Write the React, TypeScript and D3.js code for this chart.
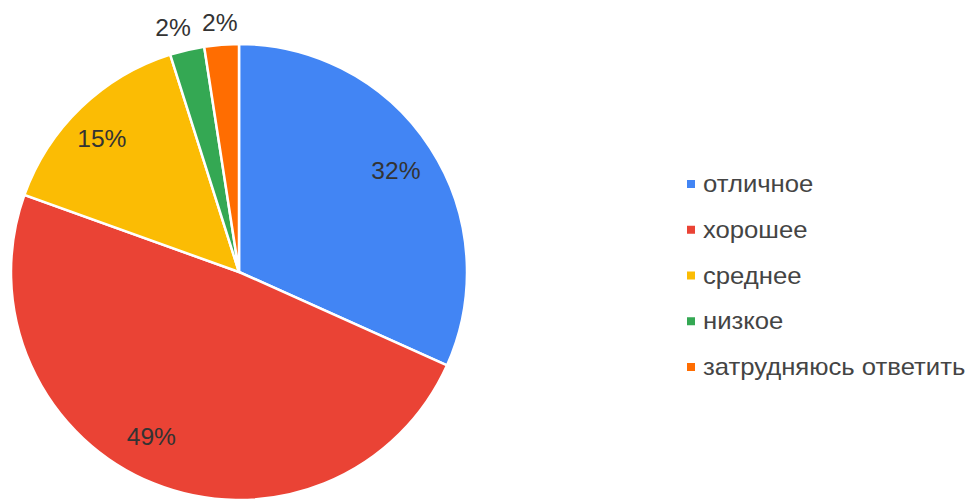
import React from "react";
import * as d3 from "d3";

const categories = ["отличное", "хорошее", "среднее", "низкое", "затрудняюсь ответить"];
const counts = [13, 20, 6, 1, 1];
const colors = ["#4285f4", "#ea4335", "#fbbc04", "#34a853", "#ff6d01"];

const W = 974;
const H = 503;
const cx = 239;
const cy = 272;
const R = 228;
const deg = Math.PI / 180;

export default function App() {
  const total = d3.sum(counts);
  const pie = d3.pie<number>().sort(null).value((d) => d);
  const arcs = pie(counts);
  const arc = d3.arc<d3.PieArcDatum<number>>().innerRadius(0).outerRadius(R);
  const fmt = (v: number) => `${Math.round((v / total) * 100)}%`;

  const legendY = d3.scalePoint<string>().domain(categories).range([184, 367]);

  return (
    <svg
      width={W}
      height={H}
      style={{ position: "absolute", left: 0, top: 0, fontFamily: "Arial, 'Liberation Sans', sans-serif" }}
    >
      <rect width={W} height={H} fill="#fff" />
      <g transform={`translate(${cx},${cy})`}>
        {arcs.map((a, i) => (
          <path key={i} d={arc(a) || ""} fill={colors[i]} stroke="#fff" strokeWidth={2.5} />
        ))}
        {arcs.map((a, i) => {
          let mid = (a.startAngle + a.endAngle) / 2;
          const frac = (a.endAngle - a.startAngle) / (2 * Math.PI);
          const outside = frac < 0.05;
          let rr = outside ? R + 22 : R * 0.82;
          if (i === 1) mid += 6 * deg;
          if (i === 2) {
            mid -= 2 * deg;
            rr += 4;
          }
          let x = Math.sin(mid) * rr;
          let y = -Math.cos(mid) * rr;
          if (outside && i === 3) {
            x -= 9;
            y -= 1;
          }
          return (
            <g key={i} transform={`translate(${x},${y}) scale(1.07,1)`}>
              <text
                x={0}
                y={0}
                textAnchor="middle"
                dominantBaseline="central"
                fontSize={23}
                fill="#333"
              >
                {fmt(counts[i])}
              </text>
            </g>
          );
        })}
      </g>
      <g>
        {categories.map((c, i) => (
          <g key={c} transform={`translate(0,${legendY(c)})`}>
            <rect x={687} y={-4} width={8} height={8} fill={colors[i]} />
            <g transform="translate(703,0) scale(1.07,1)">
              <text x={0} y={0} dominantBaseline="central" fontSize={24} fill="#444">
                {c}
              </text>
            </g>
          </g>
        ))}
      </g>
    </svg>
  );
}
